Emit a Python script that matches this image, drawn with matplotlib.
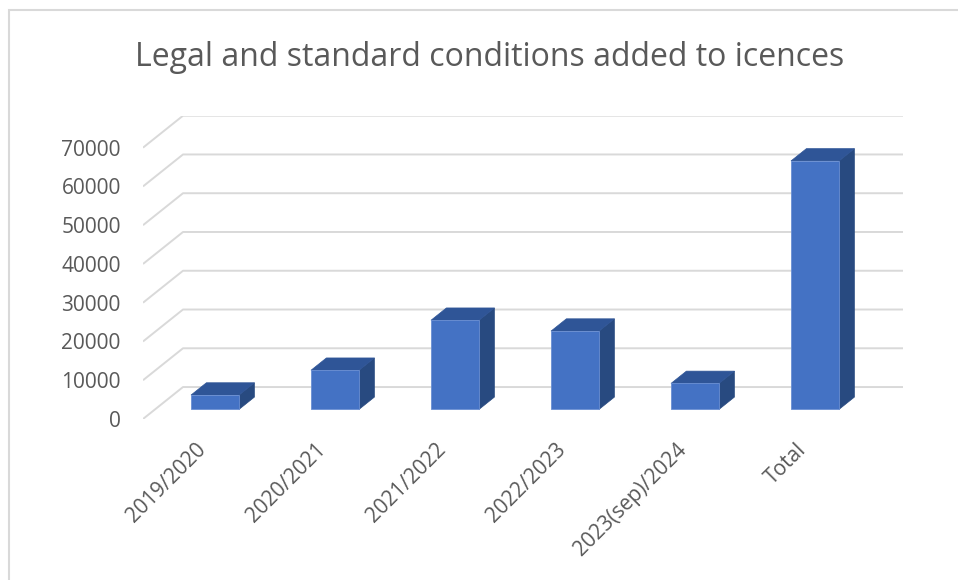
import matplotlib
matplotlib.use("Agg")
import matplotlib.pyplot as plt
from matplotlib.patches import Polygon, Rectangle

plt.rcParams['font.family'] = ['Open Sans', 'DejaVu Sans']

# data
years = ["2019/2020", "2020/2021", "2021/2022", "2022/2023", "2023(sep)/2024", "Total"]
counts = [3700, 10100, 23000, 20200, 6700, 64100]
y_ticks = [0, 10000, 20000, 30000, 40000, 50000, 60000, 70000]

TEXT = '#595959'
GRID = '#D9D9D9'
FRONT = '#4472C4'
TOP = '#2F5597'
SIDE = '#284A80'

# oblique "3d" depth offset, in data units (categories, value)
DX = 40 / 120
DY = 8247
Z0, Z1 = 0.30, 0.685   # bar depth range
BAR_W = 0.4


def proj(x, v, z):
    return (x + z * DX, v + z * DY)


fig = plt.figure(figsize=(9.58, 5.80), dpi=100)
fig.add_artist(Rectangle((9 / 958, -0.1), 2, 1.1 - 10 / 580, transform=fig.transFigure,
                         fill=False, edgecolor='#D9D9D9', lw=1.5))

ax = fig.add_axes([143 / 958, 161 / 580, 760 / 958, 303.3 / 580])
ax.set_xlim(0, len(years) + DX)
ax.set_ylim(0, y_ticks[-1] + DY)
for s in ax.spines.values():
    s.set_visible(False)

# gridlines: slanted bit on the side wall, then flat along the back wall
for v in y_ticks:
    xs = [0, DX, len(years) + DX]
    ys = [v, v + DY, v + DY]
    ax.plot(xs, ys, color=GRID, lw=1.4, zorder=1, solid_capstyle='butt')

# boxes
for i, val in enumerate(counts):
    x0 = i + 0.5 - BAR_W / 2
    x1 = i + 0.5 + BAR_W / 2
    front = [proj(x0, 0, Z0), proj(x1, 0, Z0), proj(x1, val, Z0), proj(x0, val, Z0)]
    top = [proj(x0, val, Z0), proj(x1, val, Z0), proj(x1, val, Z1), proj(x0, val, Z1)]
    side = [proj(x1, 0, Z0), proj(x1, 0, Z1), proj(x1, val, Z1), proj(x1, val, Z0)]
    ax.add_patch(Polygon(side, closed=True, facecolor=SIDE, edgecolor=SIDE, lw=0.5, zorder=3))
    ax.add_patch(Polygon(top, closed=True, facecolor=TOP, edgecolor=TOP, lw=0.5, zorder=3))
    ax.add_patch(Polygon(front, closed=True, facecolor=FRONT, edgecolor='#6A8FD3', lw=0.6, zorder=4))

ax.set_yticks(y_ticks)
ax.set_yticklabels([str(t) for t in y_ticks])
ax.tick_params(axis='y', length=0, pad=16, labelsize=15, labelcolor=TEXT)

ax.set_xticks([i + 0.5 for i in range(len(years))])
ax.set_xticklabels(years, rotation=45, ha='right', va='center', rotation_mode='anchor')
ax.tick_params(axis='x', length=0, pad=20, labelsize=15, labelcolor=TEXT)

fig.text(490 / 958, 1 - 66 / 580, "Legal and standard conditions added to icences",
         ha='center', va='baseline', fontsize=23, color=TEXT)

fig.savefig("out.png", dpi=100)
